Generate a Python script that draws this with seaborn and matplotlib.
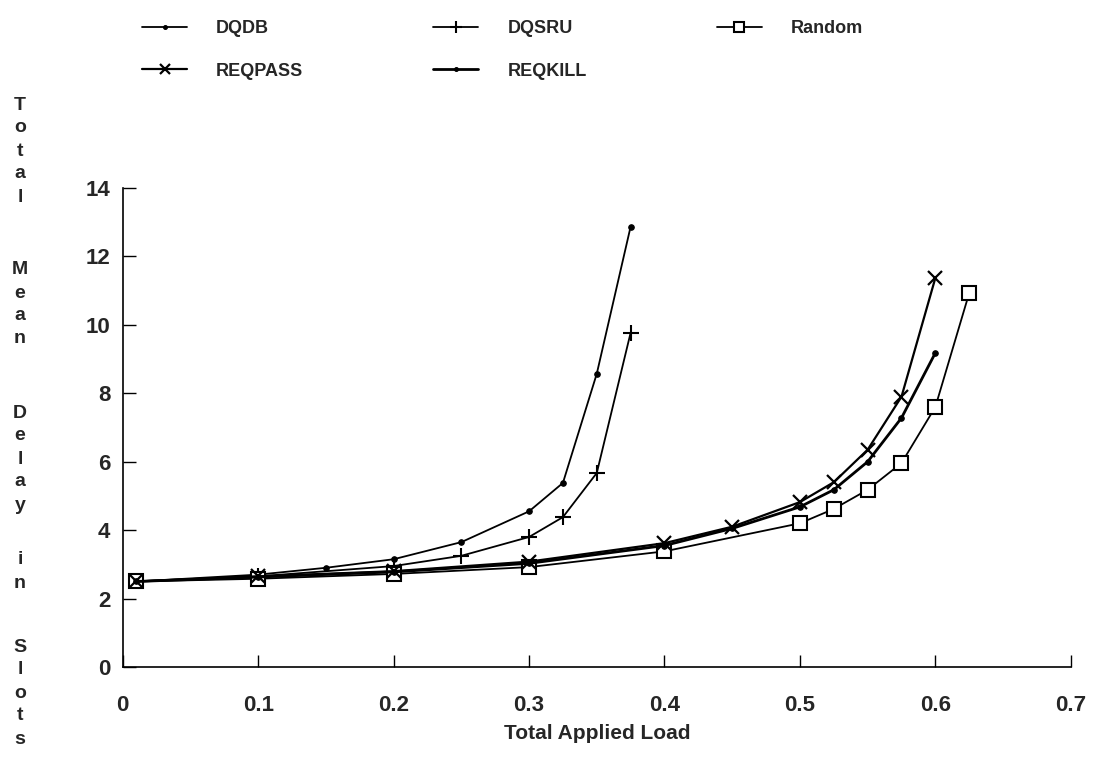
import matplotlib
matplotlib.use("Agg")
import matplotlib.pyplot as plt
import seaborn as sns
import pandas as pd

# ---- data ----
dqdb_x = [0.01, 0.1, 0.15, 0.2, 0.25, 0.3, 0.325, 0.35, 0.375]
dqdb_y = [2.5, 2.7, 2.9, 3.15, 3.65, 4.55, 5.38, 8.57, 12.87]
dqsru_x = [0.01, 0.1, 0.2, 0.25, 0.3, 0.325, 0.35, 0.375]
dqsru_y = [2.5, 2.65, 2.95, 3.25, 3.8, 4.38, 5.67, 9.77]
random_x = [0.01, 0.1, 0.2, 0.3, 0.4, 0.5, 0.525, 0.55, 0.575, 0.6, 0.625]
random_y = [2.5, 2.58, 2.72, 2.92, 3.38, 4.2, 4.62, 5.18, 5.96, 7.6, 10.93]
reqpass_x = [0.01, 0.1, 0.2, 0.3, 0.4, 0.45, 0.5, 0.525, 0.55, 0.575, 0.6]
reqpass_y = [2.5, 2.65, 2.8, 3.08, 3.62, 4.1, 4.82, 5.4, 6.35, 7.9, 11.37]
reqkill_x = [0.01, 0.1, 0.2, 0.3, 0.4, 0.45, 0.5, 0.525, 0.55, 0.575, 0.6]
reqkill_y = [2.5, 2.63, 2.78, 3.03, 3.55, 4.05, 4.68, 5.18, 6.0, 7.28, 9.18]

x_ticks = [0, 0.1, 0.2, 0.3, 0.4, 0.5, 0.6, 0.7]
x_tick_labels = ["0", "0.1", "0.2", "0.3", "0.4", "0.5", "0.6", "0.7"]
y_ticks = [0, 2, 4, 6, 8, 10, 12, 14]
x_label = "Total Applied Load"
y_words = ["Total", "Mean", "Delay", "in", "Slots"]

sns.set_style("ticks")
plt.rcParams["font.family"] = ["Liberation Sans", "DejaVu Sans"]

fig = plt.figure(figsize=(10.96, 7.69), dpi=100)
ax = fig.add_axes([0.112, 0.1326, 0.865, 0.623])

series = [
    ("DQDB", dqdb_x, dqdb_y, dict(marker="o", markersize=4, linewidth=1.3,
                                   markerfacecolor="black")),
    ("DQSRU", dqsru_x, dqsru_y, dict(marker="+", markersize=12, markeredgewidth=1.5,
                                      linewidth=1.3)),
    ("Random", random_x, random_y, dict(marker="s", markersize=10, markeredgewidth=1.5,
                                         markerfacecolor="white", linewidth=1.3)),
    ("REQPASS", reqpass_x, reqpass_y, dict(marker="x", markersize=10, markeredgewidth=1.6,
                                            linewidth=1.6)),
    ("REQKILL", reqkill_x, reqkill_y, dict(marker="o", markersize=4, linewidth=2.0,
                                            markerfacecolor="black")),
]

for name, xs, ys, kw in series:
    df = pd.DataFrame({"x": xs, "y": ys})
    sns.lineplot(data=df, x="x", y="y", ax=ax, color="black", label=name,
                 markeredgecolor="black", sort=False, estimator=None, **kw)

h, l = ax.get_legend_handles_labels()
hd = dict(zip(l, h))
ax.get_legend().remove()
order = ["DQDB", "REQPASS", "DQSRU", "REQKILL", "Random"]
fig.legend([hd[k] for k in order], order, ncol=3, frameon=False,
           loc="upper left", bbox_to_anchor=(0.118, 0.99),
           prop={"size": 13, "weight": "bold"}, handlelength=2.5,
           handletextpad=1.6, columnspacing=7.2, labelspacing=1.4,
           borderaxespad=0.3, markerscale=0.7)

ax.set_xlim(0, 0.7)
ax.set_ylim(0, 14)
ax.set_xticks(x_ticks)
ax.set_xticklabels(x_tick_labels)
ax.set_yticks(y_ticks)
ax.tick_params(axis="both", direction="in", length=9, width=1.0, labelsize=16,
               color="black")
ax.tick_params(axis="x", pad=20)
ax.tick_params(axis="y", pad=9)
for lab in ax.get_xticklabels() + ax.get_yticklabels():
    lab.set_fontweight("bold")
ax.set_xlabel(x_label, fontsize=15, fontweight="bold", labelpad=6)
ax.set_ylabel("")
sns.despine(ax=ax)
for s in ["left", "bottom"]:
    ax.spines[s].set_color("black")
    ax.spines[s].set_linewidth(1.2)

# stacked vertical y-label
word_starts = [105, 270, 413, 560, 647]
H = 769.0
for w, y0 in zip(y_words, word_starts):
    for i, ch in enumerate(w):
        fig.text(20 / 1096, 1 - (y0 + 23 * i) / H, ch, ha="center", va="center",
                 fontsize=14, fontweight="bold")

fig.savefig("out.png", dpi=100)
